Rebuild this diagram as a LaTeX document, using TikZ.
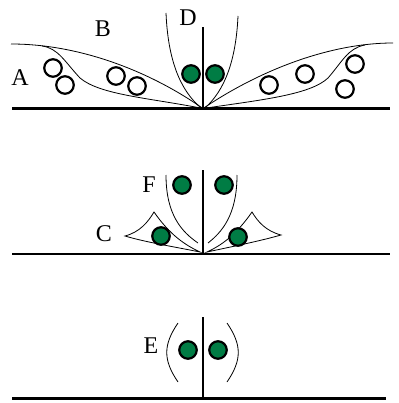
\documentclass[tikz,border=0pt]{standalone}
\usepackage{fontspec}
\setmainfont{Liberation Serif}
\definecolor{leafgreen}{RGB}{0,124,68}

\begin{document}
\begin{tikzpicture}[x=1pt,y=-1pt,
        ground/.style={line width=2.6pt},
        stem/.style={line width=2.2pt},
        lens/.style={line width=0.8pt},
        ball/.style={circle,draw,line width=2.2pt,minimum size=17.5pt,inner sep=0pt},
        open/.style={ball,fill=white},
        full/.style={ball,fill=leafgreen},
        tag/.style={font=\fontsize{24}{26}\selectfont}
    ]
    \useasboundingbox (0,0) rectangle (398,403);

    % top row: wide lenses
    \coordinate (g1l) at (12,108.5);
    \coordinate (g1r) at (390,108.5);
    \coordinate (root1) at (203,108.5);
    \coordinate (top1) at (203,27);
    \draw[lens] (root1) .. controls (148,70) and (78,44) .. (11,44);
    \draw[lens] (root1) .. controls (150,98) and (100,95) .. (80,78)
        .. controls (65,62) and (58,48) .. (42,46);
    \draw[lens] (root1) .. controls (260,70) and (330,43) .. (393,43);
    \draw[lens] (root1) .. controls (260,100) and (310,95) .. (328,78)
        .. controls (342,62) and (348,48) .. (365,45);
    \draw[lens] (166,13) .. controls (168,60) and (180,90) .. (201,108);
    \draw[lens] (238,16) .. controls (236,60) and (225,90) .. (205,108);
    \draw[ground] (g1l) -- (g1r);
    \draw[stem] (root1) -- (top1);
    \node[open] (a1) at (53,68) {};
    \node[open] (a2) at (65,85) {};
    \node[open] (b1) at (116,76) {};
    \node[open] (b2) at (137,86) {};
    \node[open] (b3) at (269,85) {};
    \node[open] (b4) at (305,74) {};
    \node[open] (a3) at (355,64) {};
    \node[open] (a4) at (345,89) {};
    \node[full] (d1) at (191,74) {};
    \node[full] (d2) at (215,74) {};

    % middle row: small cusps
    \coordinate (g2l) at (12,254);
    \coordinate (g2r) at (390,254);
    \coordinate (root2) at (203,254);
    \coordinate (top2) at (203,170);
    \draw[lens] (166,175) .. controls (166,215) and (182,232) .. (198,243);
    \draw[lens] (237,175) .. controls (237,215) and (222,232) .. (208,243);
    \draw[lens] (125,236) .. controls (140,232) and (148,222) .. (154,212)
        .. controls (170,235) and (185,245) .. (200,252)
        .. controls (170,246) and (145,242) .. cycle;
    \draw[lens] (281,235) .. controls (266,231) and (258,222) .. (252,212)
        .. controls (236,235) and (222,245) .. (207,252)
        .. controls (235,246) and (260,241) .. cycle;
    \draw[ground] (g2l) -- (g2r);
    \draw[stem] (root2) -- (top2);
    \node[full] (f1) at (182,185) {};
    \node[full] (f2) at (224,185) {};
    \node[full] (c1) at (161,236) {};
    \node[full] (c2) at (238,237) {};

    % bottom row: brackets
    \coordinate (g3l) at (12,398.5);
    \coordinate (g3r) at (386,398.5);
    \coordinate (root3) at (203,398.5);
    \coordinate (top3) at (203,317);
    \draw[lens] (178,323) .. controls (163,345) and (163,360) .. (178,382);
    \draw[lens] (227,323) .. controls (242,345) and (242,360) .. (227,382);
    \draw[ground] (g3l) -- (g3r);
    \draw[stem] (root3) -- (top3);
    \node[full] (e1) at (188,350) {};
    \node[full] (e2) at (218,350) {};

    % Add labels
    \node[tag] (la) at (20,78) {A};
    \node[tag] (lb) at (103,29) {B};
    \node[tag] (ld) at (188,18) {D};
    \node[tag] (lf) at (149,185) {F};
    \node[tag] (lc) at (104,234) {C};
    \node[tag] (le) at (151,346) {E};
\end{tikzpicture}
\end{document}
